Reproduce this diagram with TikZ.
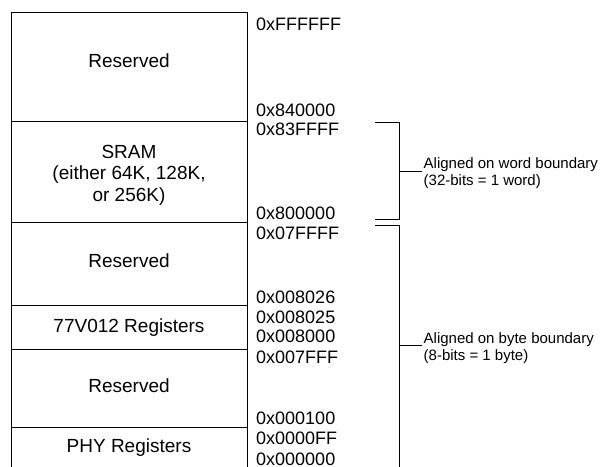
\documentclass[tikz,border=0pt]{standalone}
\usepackage{fontspec}
\setmainfont{Liberation Sans}
\usepackage{tikz}

\begin{document}
\begin{tikzpicture}[x=1bp,y=-1bp]
  \tikzset{memregion/.style={draw=black,line width=0.8bp,minimum width=236bp,inner sep=0pt}}
  \tikzset{regiontext/.style={inner sep=0pt,align=center,font=\fontsize{19bp}{21.5bp}\selectfont}}
  \tikzset{addrlabel/.style={anchor=west,inner sep=0pt,text height=12.9bp,text depth=0pt,font=\fontsize{18bp}{20bp}\selectfont}}
  \tikzset{bracketline/.style={draw=black,line width=0.8bp}}
  \tikzset{notelabel/.style={anchor=west,inner xsep=1.5bp,inner ysep=0pt,align=left,font=\fontsize{15bp}{17bp}\selectfont}}
  \useasboundingbox (0,0) rectangle (614,467);
  \clip (0,0) rectangle (614,467);
  % memory map
  \node[memregion,minimum height=109bp] (r0) at (129,66.5) {};
  \node[memregion,minimum height=101bp] (r1) at (129,171.5) {};
  \node[memregion,minimum height=83bp] (r2) at (129,263.5) {};
  \node[memregion,minimum height=44bp] (r3) at (129,327) {};
  \node[memregion,minimum height=78bp] (r4) at (129,388) {};
  \node[memregion,minimum height=44bp] (r5) at (129,449) {};
  \node[regiontext] (t0) at (129,61) {Reserved};
  \node[regiontext] (t1) at (129,175) {SRAM\\(either 64K, 128K,\\or 256K)};
  \node[regiontext] (t2) at (129,261) {Reserved};
  \node[regiontext] (t3) at (129,328) {77V012 Registers};
  \node[regiontext] (t4) at (129,386) {Reserved};
  \node[regiontext] (t5) at (129,448) {PHY Registers};
  % addresses
  \node[addrlabel] (a0) at (256,24) {0xFFFFFF};
  \node[addrlabel] (a1) at (256,110) {0x840000};
  \node[addrlabel] (a2) at (256,129) {0x83FFFF};
  \node[addrlabel] (a3) at (256,213) {0x800000};
  \node[addrlabel] (a4) at (256,233) {0x07FFFF};
  \node[addrlabel] (a5) at (256,297) {0x008026};
  \node[addrlabel] (a6) at (256,317) {0x008025};
  \node[addrlabel] (a7) at (256,336) {0x008000};
  \node[addrlabel] (a8) at (256,357) {0x007FFF};
  \node[addrlabel] (a9) at (256,418) {0x000100};
  \node[addrlabel] (a10) at (256,438) {0x0000FF};
  \node[addrlabel] (a11) at (256,459) {0x000000};
  % brackets
  \coordinate (w0) at (375,122);
  \coordinate (w1) at (399,122);
  \coordinate (w2) at (399,219);
  \coordinate (w3) at (375,219);
  \coordinate (wm) at (399,171);
  \coordinate (b0) at (375,225);
  \coordinate (b1) at (399,225);
  \coordinate (b2) at (399,468);
  \coordinate (b3) at (375,468);
  \coordinate (bm) at (399,345);
  \node[notelabel] (n0) at (422,173) {Aligned on word boundary\\(32-bits = 1 word)};
  \node[notelabel] (n1) at (422,348) {Aligned on byte boundary\\(8-bits = 1 byte)};
  \draw[bracketline] (w0) -- (w1) -- (w2) -- (w3);
  \draw[bracketline] (wm) -- (n0.west |- wm);
  \draw[bracketline] (b0) -- (b1) -- (b2) -- (b3);
  \draw[bracketline] (bm) -- (n1.west |- bm);
\end{tikzpicture}
\end{document}
